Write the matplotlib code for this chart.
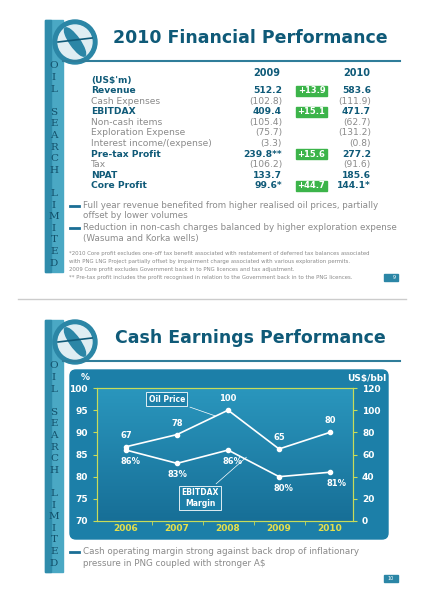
import matplotlib
matplotlib.use("Agg")
import matplotlib.pyplot as plt
from matplotlib.patches import Rectangle, FancyBboxPatch, Circle, Ellipse
import numpy as np

years = [2006, 2007, 2008, 2009, 2010]
oil_price = [67, 78, 100, 65, 80]
ebitdax_margin = [86, 83, 86, 80, 81]

rows = ["Revenue", "Cash Expenses", "EBITDAX", "Non-cash items", "Exploration Expense",
        "Interest income/(expense)", "Pre-tax Profit", "Tax", "NPAT", "Core Profit"]
bold_rows = ["Revenue", "EBITDAX", "Pre-tax Profit", "NPAT", "Core Profit"]
v2009 = ["512.2", "(102.8)", "409.4", "(105.4)", "(75.7)", "(3.3)", "239.8**", "(106.2)", "133.7", "99.6*"]
v2010 = ["583.6", "(111.9)", "471.7", "(62.7)", "(131.2)", "(0.8)", "277.2", "(91.6)", "185.6", "144.1*"]
growth = ["+13.9", "", "+15.1", "", "", "", "+15.6", "", "", "+44.7"]

W, H = 424, 600
fig = plt.figure(figsize=(4.24, 6.0), dpi=100)
bg = fig.add_axes([0, 0, 1, 1])
bg.set_xlim(0, W); bg.set_ylim(H, 0); bg.axis("off")

DARK = "#0f5a78"
BLUE = "#1a6e95"
GREY = "#8a8a8a"
word = "OIL SEARCH LIMITED"

def slide(off, title):
    bg.add_patch(Rectangle((45, off + 20), 18, 252, color="#4aa8c4", zorder=1))
    bg.add_patch(Rectangle((45, off + 20), 6, 252, color="#2f8cab", zorder=1))
    bg.add_patch(Circle((75, off + 42), 22, color="#2b86a6", zorder=2))
    bg.add_patch(Circle((75, off + 42), 17, color="#dfeef3", zorder=3))
    bg.add_patch(Ellipse((75, off + 42), 10, 34, angle=-35, color="#2b86a6", zorder=4))
    bg.plot([58, 92], [off + 42, off + 38], color=DARK, lw=1.2, zorder=5)
    bg.text(250, off + 38, title, ha="center", va="center", fontsize=12.5, fontweight="bold",
            color=DARK, family="DejaVu Sans")
    bg.plot([63, 400], [off + 61, off + 61], color="#2f7d9a", lw=1.5)
    ys = np.linspace(off + 66, off + 263, len(word))
    for ch, y in zip(word, ys):
        if ch != " ":
            bg.text(54, y, ch, ha="center", va="center", fontsize=7.5, color="#12506a",
                    family="DejaVu Serif")

slide(0, "2010 Financial Performance")
bg.text(280, 73, "2009", ha="right", va="center", fontsize=7, fontweight="bold", color=DARK)
bg.text(370, 73, "2010", ha="right", va="center", fontsize=7, fontweight="bold", color=DARK)
bg.text(91, 81, "(US$'m)", ha="left", va="center", fontsize=6.5, fontweight="bold", color=DARK)
for i, r in enumerate(rows):
    y = 90.5 + i * 10.6
    b = r in bold_rows
    c = DARK if b else GREY
    fw = "bold" if b else "normal"
    bg.text(91, y, r, ha="left", va="center", fontsize=6.6, fontweight=fw, color=c)
    bg.text(282, y, v2009[i], ha="right", va="center", fontsize=6.6, fontweight=fw, color=c)
    bg.text(371, y, v2010[i], ha="right", va="center", fontsize=6.6, fontweight=fw, color=c)
    if growth[i]:
        bg.add_patch(Rectangle((296, y - 5), 31, 10, color="#3cb44a"))
        bg.text(311.5, y, growth[i], ha="center", va="center", fontsize=6, fontweight="bold", color="white")

bullets1 = [("Full year revenue benefited from higher realised oil prices, partially", 206),
            ("offset by lower volumes", 216),
            ("Reduction in non-cash charges balanced by higher exploration expense", 228),
            ("(Wasuma and Korka wells)", 239)]
for t, y in bullets1:
    bg.text(83, y, t, ha="left", va="center", fontsize=6.3, color=GREY)
for y in (206, 228):
    bg.plot([70, 79], [y, y], color=BLUE, lw=2)
notes = ["*2010 Core profit excludes one-off tax benefit associated with restatement of deferred tax balances associated",
         "with PNG LNG Project partially offset by impairment charge associated with various exploration permits.",
         "2009 Core profit excludes Government back in to PNG licences and tax adjustment.",
         "** Pre-tax profit includes the profit recognised in relation to the Government back in to the PNG licences."]
for i, t in enumerate(notes):
    bg.text(69, 253 + i * 8, t, ha="left", va="center", fontsize=3.9, color=GREY)
bg.add_patch(Rectangle((384, 274), 14, 7, color="#2b86a6"))
bg.text(394, 277.5, "9", ha="center", va="center", fontsize=3.5, color="white")
bg.plot([18, 406], [299, 299], color="#cccccc", lw=1)

slide(300, "Cash Earnings Performance")
grad = np.linspace(0, 1, 100).reshape(-1, 1)
bg.add_patch(FancyBboxPatch((70, 370), 318, 169, boxstyle="round,pad=0,rounding_size=6",
                            color="#1c7fa8", zorder=1))
bg.imshow(grad, extent=(97, 353, 521, 388), cmap=matplotlib.colors.LinearSegmentedColormap.from_list(
    "g", ["#2a96bd", "#176f97"]), aspect="auto", zorder=1.5)
bg.set_xlim(0, W); bg.set_ylim(H, 0)
bg.text(81, 378, "%", ha="left", va="center", fontsize=6.5, fontweight="bold", color="white")
bg.text(386, 378, "US$/bbl", ha="right", va="center", fontsize=6.5, fontweight="bold", color="white")

ax = fig.add_axes([97 / W, 1 - 521 / H, 256 / W, 133 / H])
ax.patch.set_alpha(0)
ax.set_xlim(2005.43, 2010.45)
ax.set_ylim(70, 100)
ax.set_yticks([70, 75, 80, 85, 90, 95, 100])
ax.set_xticks(years)
ax.set_xticklabels([str(y) for y in years], color="#e6e04a", fontsize=7, fontweight="bold")
ax2 = ax.twinx()
ax2.set_ylim(0, 120)
ax2.set_yticks([0, 20, 40, 60, 80, 100, 120])
for a in (ax, ax2):
    for s in a.spines.values():
        s.set_color("#c8dc5a")
    a.tick_params(colors="#c8dc5a", labelcolor="white", labelsize=6.5, length=3)
    for l in a.get_yticklabels():
        l.set_fontweight("bold")
ax.tick_params(axis="x", labelcolor="#e6e04a", pad=2)
ax.set_xticks([2006.5, 2007.5, 2008.5, 2009.5], minor=True)
ax.tick_params(axis="x", which="major", length=0)
ax.tick_params(axis="x", which="minor", length=3, color="#c8dc5a")
ax.plot(years, ebitdax_margin, color="white", lw=1.2, marker="o", ms=3)
ax2.plot(years, oil_price, color="white", lw=1.2, marker="o", ms=3)
m_off = [(3, -5), (0, -5), (3, -5), (3, -5), (5, -5)]
for x, v, o in zip(years, ebitdax_margin, m_off):
    ax.annotate(f"{v}%", (x, v), xytext=o, textcoords="offset points", ha="center", va="top",
                fontsize=6, fontweight="bold", color="white")
o_off = [(0, 5), (0, 5), (0, 5), (0, 5), (0, 5)]
for x, v, o in zip(years, oil_price, o_off):
    ax2.annotate(str(v), (x, v), xytext=o, textcoords="offset points", ha="center", va="bottom",
                 fontsize=6, fontweight="bold", color="white")
ax2.annotate("Oil Price", (2007.8, 94), xytext=(2006.8, 110), ha="center", va="center",
             fontsize=5.5, fontweight="bold", color="white",
             bbox=dict(boxstyle="square,pad=0.3", fc="#1c7fa8", ec="white", lw=0.6),
             arrowprops=dict(arrowstyle="-", color="white", lw=0.5))
ax.annotate("EBITDAX\nMargin", (2008.4, 84.8), xytext=(2007.45, 75.2), ha="center", va="center",
            fontsize=5.5, fontweight="bold", color="white",
            bbox=dict(boxstyle="square,pad=0.3", fc="#1c7fa8", ec="white", lw=0.6),
            arrowprops=dict(arrowstyle="-", color="white", lw=0.5))

bg.plot([70, 79], [552, 552], color=BLUE, lw=2)
bg.text(83, 552, "Cash operating margin strong against back drop of inflationary", ha="left",
        va="center", fontsize=6.3, color=GREY)
bg.text(83, 563, "pressure in PNG coupled with stronger A$", ha="left", va="center", fontsize=6.3, color=GREY)
bg.add_patch(Rectangle((384, 575), 14, 7, color="#2b86a6"))
bg.text(391, 578.5, "10", ha="center", va="center", fontsize=3.5, color="white")

fig.savefig("out.png", dpi=100)
